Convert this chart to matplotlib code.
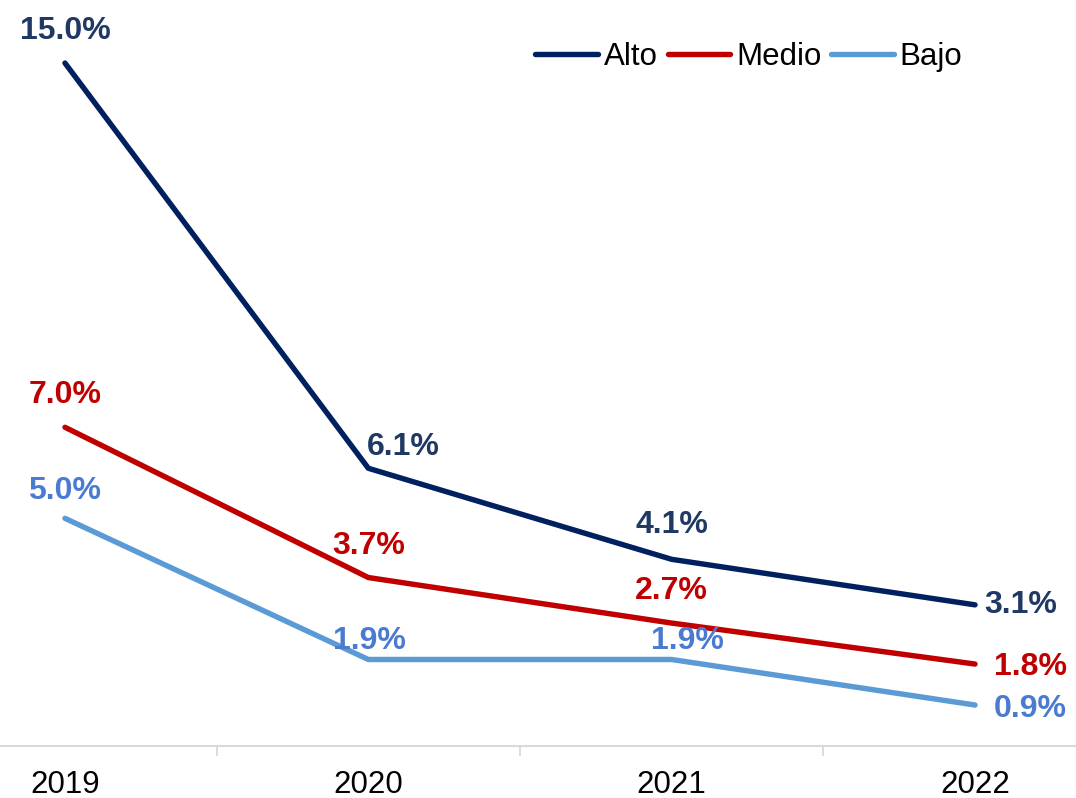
import matplotlib.pyplot as plt

plt.rcParams['font.family'] = ['Liberation Sans', 'DejaVu Sans']

years = ['2019', '2020', '2021', '2022']
alto = [15.0, 6.1, 4.1, 3.1]
medio = [7.0, 3.7, 2.7, 1.8]
bajo = [5.0, 1.9, 1.9, 0.9]

series = [
    ('Alto', alto, '#002060', '#1F3864', [(0, 23), (25, 15), (0, 25), (33, 0)]),
    ('Medio', medio, '#C00000', '#C00000', [(0, 23), (0, 23), (0, 23), (40, -2)]),
    ('Bajo', bajo, '#5B9BD5', '#4A7BD0', [(0, 20), (1, 13), (11, 13), (40, -3)]),
]

fig = plt.figure(figsize=(10.76, 7.98), dpi=100)
# axes extend past the figure edges so the categories sit like the original
ax = fig.add_axes([-86.7 / 1076, 52 / 798, 1213.4 / 1076, 728.5 / 798])

x = list(range(len(years)))
for name, vals, color, lab_color, offs in series:
    ax.plot(x, vals, color=color, lw=3.9, solid_capstyle='round', label=name)
    for xi, v, (dx, dy) in zip(x, vals, offs):
        ax.annotate(f'{v:.1f}%', (xi, v), xytext=(dx, dy), textcoords='offset points',
                    ha='center', va='center', fontsize=23, fontweight='bold',
                    color=lab_color)

ax.set_xlim(-0.5, len(years) - 0.5)
ax.set_ylim(0, 16)
ax.set_yticks([])
ax.set_xticks(x)
ax.set_xticklabels(years, fontsize=22.5)
ax.set_xticks([0.5, 1.5, 2.5], minor=True)
ax.tick_params(axis='x', which='major', length=0, pad=17)
ax.tick_params(axis='x', which='minor', length=7, width=1.3, color='#D9D9D9')
for side in ['top', 'right', 'left']:
    ax.spines[side].set_visible(False)
ax.spines['bottom'].set_color('#D9D9D9')
ax.spines['bottom'].set_linewidth(1.5)

ax.legend(loc='center', bbox_to_anchor=(749 / 1076, 1 - 57 / 798),
          bbox_transform=fig.transFigure, ncol=3, frameon=False, fontsize=22.5,
          handlelength=2.0, handletextpad=0.2, columnspacing=0.3)

fig.savefig('out.png', dpi=100)
